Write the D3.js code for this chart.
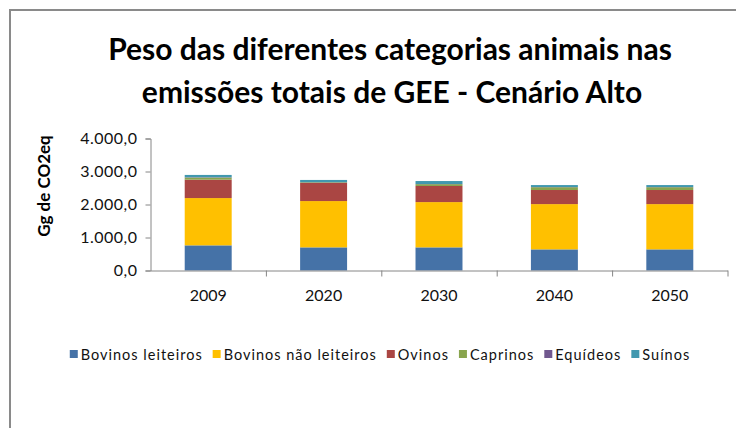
<!DOCTYPE html>
<html>
<head>
<meta charset="utf-8">
<script src="https://cdn.jsdelivr.net/npm/d3@7"></script>
<style>
  body { margin: 0; background: #fff; }
  svg { display: block; font-family: Lato, "Open Sans", sans-serif; }
</style>
</head>
<body>
<svg></svg>
<script>
const years = ["2009", "2020", "2030", "2040", "2050"];
const seriesNames = ["Bovinos leiteiros", "Bovinos não leiteiros", "Ovinos", "Caprinos", "Equídeos", "Suínos"];
const seriesColors = ["#4572A7", "#FFC000", "#AA4643", "#89A54E", "#71588F", "#4198AF"];

const bovinosLeiteiros = [762, 701, 701, 640, 640];
const bovinosNaoLeiteiros = [1433, 1403, 1372, 1372, 1372];
const ovinos = [558, 548, 488, 427, 427];
const caprinos = [63, 20, 55, 85, 85];
const equideos = [10, 5, 5, 5, 5];
const suinos = [70, 67, 90, 60, 60];

const yTicks = [0, 1000, 2000, 3000, 4000];

const width = 736;
const height = 428;

const svg = d3.select("svg").attr("width", width).attr("height", height);

// build rows for the stack
const columns = [bovinosLeiteiros, bovinosNaoLeiteiros, ovinos, caprinos, equideos, suinos];
const rows = years.map((year, i) => {
  const row = { year: year };
  seriesNames.forEach((name, j) => {
    row[name] = columns[j][i];
  });
  return row;
});

const stacked = d3.stack().keys(seriesNames)(rows);

const xScale = d3
  .scaleBand()
  .domain(years)
  .range([150.5, 727.5])
  .paddingInner(0.593)
  .paddingOuter(0.2965);

const yScale = d3.scaleLinear().domain([0, 4000]).range([270.5, 138.5]);

const locale = d3.formatLocale({ decimal: ",", thousands: ".", grouping: [3], currency: ["", ""] });
const fmt = locale.format(",.1f");

// outer frame (right and bottom run off the picture)
svg
  .append("rect")
  .attr("x", 10)
  .attr("y", 10)
  .attr("width", 760)
  .attr("height", 460)
  .attr("fill", "none")
  .attr("stroke", "#8a8a8a")
  .attr("stroke-width", 2);

// title
const title = svg
  .append("text")
  .attr("text-anchor", "middle")
  .attr("font-weight", "bold")
  .attr("font-size", 30)
  .attr("fill", "#000");
title.append("tspan").attr("x", 390).attr("y", 60).text("Peso das diferentes categorias animais nas");
title.append("tspan").attr("x", 392).attr("y", 103).text("emissões totais de GEE - Cenário Alto");

// bars
svg
  .append("g")
  .selectAll("g")
  .data(stacked)
  .enter()
  .append("g")
  .attr("fill", (d, i) => seriesColors[i])
  .selectAll("rect")
  .data((d) => d)
  .enter()
  .append("rect")
  .attr("x", (d) => xScale(d.data.year))
  .attr("width", xScale.bandwidth())
  .attr("y", (d) => yScale(d[1]))
  .attr("height", (d) => yScale(d[0]) - yScale(d[1]));

// y axis
const yAxis = d3.axisLeft(yScale).tickValues(yTicks).tickSize(5).tickPadding(8).tickFormat(fmt);
const yG = svg.append("g").attr("transform", "translate(150.5,0)").call(yAxis);
yG.select(".domain").attr("stroke", "#868686");
yG.selectAll(".tick line").attr("stroke", "#868686");
yG.selectAll(".tick text")
  .attr("font-size", 16)
  .attr("letter-spacing", 0.5)
  .attr("fill", "#111")
  .attr("font-family", "Lato, sans-serif");

// x axis: line with ticks between categories, labels centred on bars
const edgeScale = d3.scaleLinear().domain([0, years.length]).range([150.5, 727.5]);
const xEdge = d3.axisBottom(edgeScale).ticks(years.length).tickSize(6).tickSizeOuter(0).tickFormat("");
const xG = svg.append("g").attr("transform", "translate(0,270.5)").call(xEdge);
xG.select(".domain").attr("stroke", "#868686");
xG.selectAll(".tick line").attr("stroke", "#868686");
xG.selectAll(".tick").filter((d) => d === 0).remove();

const xAxis = d3.axisBottom(xScale).tickSize(0).tickPadding(19);
const xL = svg.append("g").attr("transform", "translate(0,270.5)").call(xAxis);
xL.select(".domain").remove();
xL.selectAll(".tick text").attr("font-size", 16).attr("fill", "#111").attr("font-family", "Lato, sans-serif");

// y axis title
svg
  .append("text")
  .attr("transform", "translate(50,186) rotate(-90)")
  .attr("text-anchor", "middle")
  .attr("font-weight", "bold")
  .attr("font-size", 17)
  .text("Gg de CO2eq");

// legend
const legend = svg.append("g");
let lx = 0;
seriesNames.forEach((name, i) => {
  const item = legend.append("g").attr("transform", "translate(" + lx + ",0)");
  item.append("rect").attr("x", 0).attr("y", 350).attr("width", 8).attr("height", 8).attr("fill", seriesColors[i]);
  const t = item
    .append("text")
    .attr("x", 11)
    .attr("y", 360)
    .attr("font-size", 14.5)
    .attr("letter-spacing", 1)
    .attr("fill", "#111")
    .text(name);
  lx += 11 + t.node().getComputedTextLength() + 10;
});
const legendWidth = lx - 10;
legend.attr("transform", "translate(" + (380 - legendWidth / 2) + ",0)");
</script>
</body>
</html>
